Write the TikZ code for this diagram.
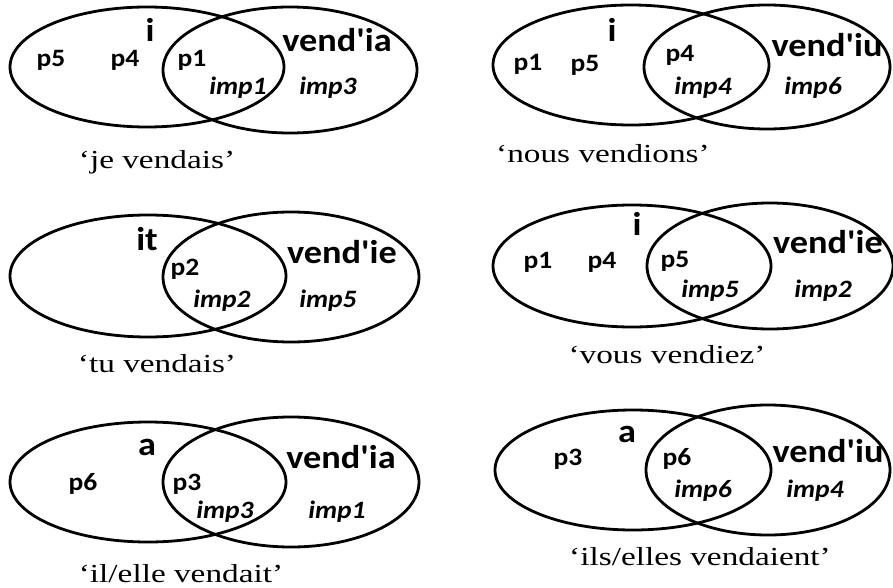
\documentclass[tikz,border=0pt]{standalone}
\usepackage{fontspec}
\usetikzlibrary{shapes.geometric}
\newfontfamily\etiq{Carlito}[FakeStretch=1.1,Ligatures=TeXOff]
\newfontfamily\legendeFont{Liberation Serif}[FakeStretch=1.28]

\begin{document}
\begin{tikzpicture}
	[
	x=1pt, y=-1pt,
        ensemble/.style={
            ellipse,
            draw,
            line width=2.8pt,
            inner sep=0pt
        },
        morphe/.style={
            anchor=base,
            inner sep=0pt,
            font=\etiq\bfseries\fontsize{33}{37}\selectfont
        },
        personne/.style={
            anchor=base,
            inner sep=0pt,
            font=\etiq\bfseries\fontsize{25}{29}\selectfont
        },
        imparfait/.style={
            anchor=base,
            inner sep=0pt,
            font=\etiq\bfseries\itshape\fontsize{25}{29}\selectfont
        },
        legende/.style={
            anchor=base,
            inner sep=0pt,
            font=\legendeFont\fontsize{26}{30}\selectfont
        }
    ]
    \path[use as bounding box] (0,0) rectangle (893,588);
    \clip (0,0) rectangle (893,588);

    \node(jeGauche) [ensemble, minimum width=274, minimum height=120] at (147,67) {};
    \node(jeDroite) [ensemble, minimum width=254, minimum height=126] at (290,70) {};
    \node(jeI) [morphe] at (150,42) {i};
    \node(jeVend) [morphe] at (337,52) {vend'ia};
    \node(jeP5) [personne] at (51,67) {p5};
    \node(jeP4) [personne] at (125,67) {p4};
    \node(jeP1) [personne] at (192,67) {p1};
    \node(jeImp1) [imparfait] at (238,95) {imp1};
    \node(jeImp3) [imparfait] at (328,95) {imp3};
    \node(jeLegende) [legende] at (157,168) {‘je vendais’};

    \node(nousGauche) [ensemble, minimum width=276, minimum height=120] at (631,65) {};
    \node(nousDroite) [ensemble, minimum width=246, minimum height=124] at (767,67) {};
    \node(nousI) [morphe] at (612,42) {i};
    \node(nousVend) [morphe] at (827,57) {vend'iu};
    \node(nousP1) [personne] at (528,71) {p1};
    \node(nousP5) [personne] at (585,72) {p5};
    \node(nousP4) [personne] at (680,62) {p4};
    \node(nousImp4) [imparfait] at (703,95) {imp4};
    \node(nousImp6) [imparfait] at (813,95) {imp6};
    \node(nousLegende) [legende] at (603,163) {‘nous vendions’};

    \node(tuGauche) [ensemble, minimum width=276, minimum height=122] at (148,276) {};
    \node(tuDroite) [ensemble, minimum width=256, minimum height=130] at (291,277) {};
    \node(tuIt) [morphe] at (147,250) {it};
    \node(tuVend) [morphe] at (342,263) {vend'ie};
    \node(tuP2) [personne] at (185,275) {p2};
    \node(tuImp2) [imparfait] at (222,307) {imp2};
    \node(tuImp5) [imparfait] at (328,307) {imp5};
    \node(tuLegende) [legende] at (157,372) {‘tu vendais’};

    \node(vousGauche) [ensemble, minimum width=278, minimum height=122] at (632,266) {};
    \node(vousDroite) [ensemble, minimum width=246, minimum height=126] at (770,266) {};
    \node(vousI) [morphe] at (637,235) {i};
    \node(vousVend) [morphe] at (828,253) {vend'ie};
    \node(vousP1) [personne] at (538,268) {p1};
    \node(vousP4) [personne] at (602,268) {p4};
    \node(vousP5) [personne] at (675,267) {p5};
    \node(vousImp5) [imparfait] at (710,297) {imp5};
    \node(vousImp2) [imparfait] at (823,297) {imp2};
    \node(vousLegende) [legende] at (667,363) {‘vous vendiez’};

    \node(ilGauche) [ensemble, minimum width=276, minimum height=120] at (148,482) {};
    \node(ilDroite) [ensemble, minimum width=256, minimum height=130] at (291,482) {};
    \node(ilA) [morphe] at (147,455) {a};
    \node(ilVend) [morphe] at (341,468) {vend'ia};
    \node(ilP6) [personne] at (83,490) {p6};
    \node(ilP3) [personne] at (187,490) {p3};
    \node(ilImp3) [imparfait] at (225,518) {imp3};
    \node(ilImp1) [imparfait] at (337,518) {imp1};
    \node(ilLegende) [legende] at (181,582) {‘il/elle vendait’};

    \node(ilsGauche) [ensemble, minimum width=276, minimum height=120] at (633,470) {};
    \node(ilsDroite) [ensemble, minimum width=244, minimum height=130] at (768,470) {};
    \node(ilsA) [morphe] at (627,442) {a};
    \node(ilsVend) [morphe] at (828,462) {vend'iu};
    \node(ilsP3) [personne] at (568,465) {p3};
    \node(ilsP6) [personne] at (677,465) {p6};
    \node(ilsImp6) [imparfait] at (703,497) {imp6};
    \node(ilsImp4) [imparfait] at (815,497) {imp4};
    \node(ilsLegende) [legende] at (700,565) {‘ils/elles vendaient’};
\end{tikzpicture}
\end{document}
